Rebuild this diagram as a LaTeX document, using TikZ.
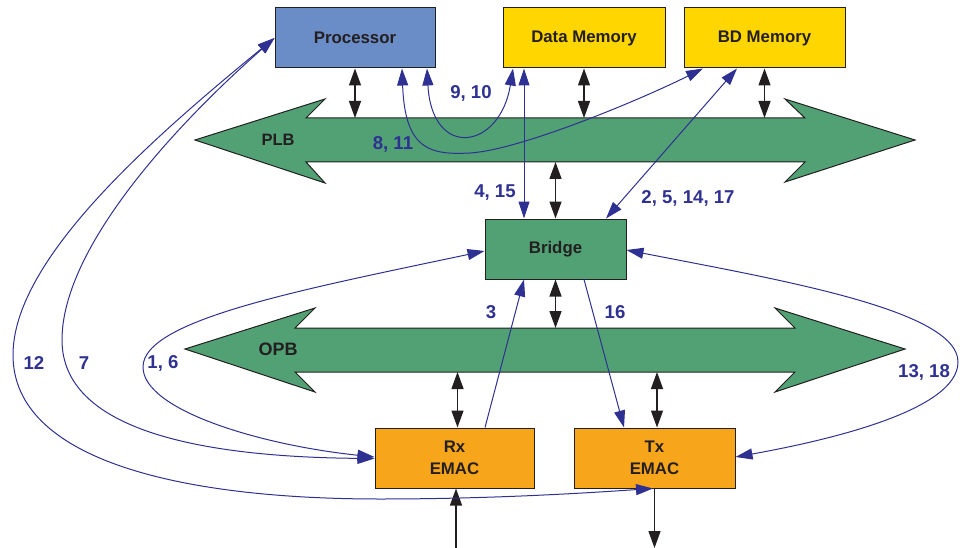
\documentclass[tikz,border=0pt]{standalone}
\usepackage{fontspec}
\setmainfont{Liberation Sans}
\usetikzlibrary{arrows.meta}
\definecolor{procblue}{RGB}{106,140,199}
\definecolor{memyellow}{RGB}{255,214,0}
\definecolor{busgreen}{RGB}{82,161,117}
\definecolor{emacorange}{RGB}{247,166,27}
\definecolor{linkblue}{RGB}{46,49,146}
\definecolor{ink}{RGB}{35,31,32}
\begin{document}
\begin{tikzpicture}[x=1pt,y=-1pt,
  box/.style={draw=ink,line width=1pt,inner sep=0pt,minimum height=60pt,text=ink,
    font=\fontsize{16.8}{22}\selectfont\bfseries,align=center},
  bus/.style={draw=ink,line width=1pt,fill=busgreen},
  blk/.style={draw=ink,line width=1.3pt,>={Triangle[length=17pt,width=12pt]}},
  lnk/.style={draw=linkblue,line width=1pt,>={Triangle[length=17pt,width=11pt]}},
  lbl/.style={text=linkblue,font=\fontsize{18.6}{22}\selectfont\bfseries,inner sep=0pt},
  buslbl/.style={text=ink,font=\fontsize{#1}{20}\selectfont\bfseries,inner sep=0pt}]
\useasboundingbox (0,0) rectangle (960,548);

% buses
\draw[bus] (195,140) -- (325,99) -- (306,118) -- (805,118) -- (785,99) -- (915,140)
  -- (785,182) -- (805,162) -- (306,162) -- (325,183) -- cycle;
\draw[bus] (185,349) -- (315,308) -- (295,328) -- (795,328) -- (775,308) -- (905,349)
  -- (775,392) -- (795,372) -- (295,372) -- (315,392) -- cycle;
\coordinate (plbtop) at (0,118);
\coordinate (plbbot) at (0,162);
\coordinate (opbtop) at (0,328);
\coordinate (opbbot) at (0,372);
\coordinate (bottom) at (0,548);
\node[buslbl=16.5] (plbl) at (278,140) {PLB};
\node[buslbl=18] (opbl) at (278,349) {OPB};

% boxes
\node[box,fill=procblue,minimum width=160pt] (proc) at (355,38) {Processor};
\node[box,fill=memyellow,minimum width=162pt] (dmem) at (584,38) {Data Memory};
\node[box,fill=memyellow,minimum width=161pt] (bdmem) at (764.5,38) {BD Memory};
\node[box,fill=busgreen,minimum width=141pt] (bridge) at (555.5,249) {Bridge};
\node[box,fill=emacorange,minimum width=159pt] (rx) at (454.5,458) {Rx\\[0pt]EMAC};
\node[box,fill=emacorange,minimum width=161pt] (tx) at (654.5,458) {Tx\\[0pt]EMAC};

% black bus connections
\draw[blk,<->] (proc.south) -- (proc.south |- plbtop);
\draw[blk,<->] (dmem.south) -- (dmem.south |- plbtop);
\draw[blk,<->] (bdmem.south) -- (bdmem.south |- plbtop);
\draw[blk,<->] (bridge.north |- plbbot) -- (bridge.north);
\draw[blk,<->] (bridge.south) -- (bridge.south |- opbtop);
\draw[blk,<->] ([xshift=3pt]rx.north |- opbbot) -- ([xshift=3pt]rx.north);
\draw[blk,<->] ([xshift=2.5pt]tx.north |- opbbot) -- ([xshift=2.5pt]tx.north);
\draw[blk,->] ([xshift=1.5pt]rx.south |- bottom) -- ([xshift=1.5pt]rx.south);
\draw[blk,->] (tx.south) -- (tx.south |- bottom);

% blue transaction links
\draw[lnk,<->] ([xshift=72pt]proc.south) .. controls (432,160) and (500,150) .. ([xshift=-71pt]dmem.south);
\draw[lnk,<->] ([xshift=47pt]proc.south) .. controls (405,150) and (430,155) .. (470,153)
  .. controls (520,150) and (640,100) .. ([xshift=-61.5pt]bdmem.south);
\draw[lnk,<->] ([xshift=-60pt]dmem.south) -- ([xshift=-31.5pt]bridge.north);
\draw[lnk,<->] ([xshift=-27.5pt]bdmem.south) -- ([xshift=50.5pt]bridge.north);
\draw[lnk,->] ([xshift=30.5pt]rx.north) -- ([xshift=-31.5pt]bridge.south);
\draw[lnk,->] ([xshift=28.5pt]bridge.south) -- ([xshift=-30.5pt]tx.north);
\draw[lnk,<->] ([yshift=-2pt]bridge.west) .. controls (300,290) and (143,320) .. (143,367)
  .. controls (143,410) and (260,445) .. ([yshift=1pt]rx.west);
\draw[lnk,<->] ([yshift=-1pt]bridge.east) .. controls (780,280) and (958,310) .. (958,362)
  .. controls (958,410) and (830,440) .. ([yshift=1pt]tx.east);
\draw[lnk,<->] (proc.west) .. controls (170,130) and (62,250) .. (62,340)
  .. controls (62,430) and (200,457) .. ([yshift=-0.5pt]rx.west);
\draw[lnk,<->] (proc.west) .. controls (150,140) and (13,260) .. (13,355)
  .. controls (13,460) and (180,499) .. (380,499)
  .. controls (500,499) and (600,492) .. ([xshift=-1.5pt]tx.south);

% labels
\node[lbl] (l910) at (471,93) {9, 10};
\node[lbl] (l811) at (393,144) {8, 11};
\node[lbl] (l415) at (495,193) {4, 15};
\node[lbl] (l2) at (688,198) {2, 5, 14, 17};
\node[lbl] (l3) at (491,312) {3};
\node[lbl] (l16) at (615,312) {16};
\node[lbl] (l1318) at (924,372) {13, 18};
\node[lbl] (l16b) at (163,363) {1, 6};
\node[lbl] (l7) at (84,363) {7};
\node[lbl] (l12) at (34,363) {12};
\end{tikzpicture}
\end{document}
